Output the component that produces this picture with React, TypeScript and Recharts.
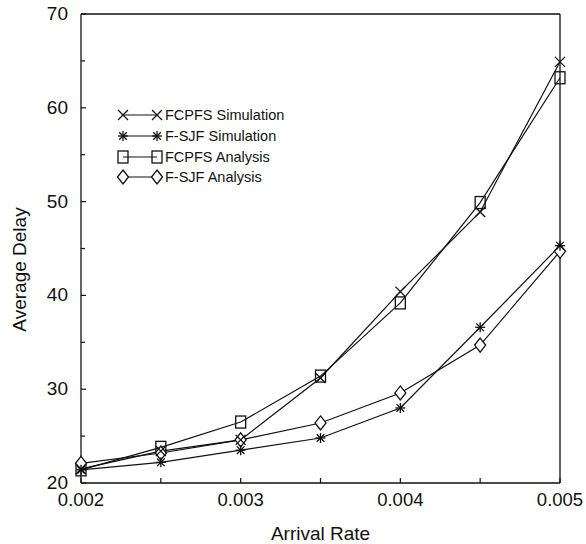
import React from 'react'
import { LineChart, Line, XAxis, YAxis, ReferenceLine, Legend } from 'recharts'

const rates = [0.002, 0.0025, 0.003, 0.0035, 0.004, 0.0045, 0.005]
const fcpfsSim = [21.5, 23.4, 24.6, 31.2, 40.4, 48.9, 64.9]
const fsjfSim = [21.4, 22.2, 23.5, 24.8, 28.0, 36.6, 45.3]
const fcpfsAna = [21.4, 23.8, 26.5, 31.4, 39.2, 49.9, 63.2]
const fsjfAna = [22.1, 23.2, 24.6, 26.4, 29.6, 34.7, 44.7]

const xTicks = [0.002, 0.0025, 0.003, 0.0035, 0.004, 0.0045, 0.005]
const yTicks = [20, 25, 30, 35, 40, 45, 50, 55, 60, 65, 70]

const seriesNames = ['FCPFS Simulation', 'F-SJF Simulation', 'FCPFS Analysis', 'F-SJF Analysis']
const seriesShapes = ['cross', 'star', 'square', 'diamond']

const data = rates.map((r, i) => ({
  rate: r,
  fcpfsSim: fcpfsSim[i],
  fsjfSim: fsjfSim[i],
  fcpfsAna: fcpfsAna[i],
  fsjfAna: fsjfAna[i],
}))

const FONT = '"Liberation Sans", Arial, sans-serif'
const INK = '#111'

const Marker = ({ shape, cx, cy }: { shape: string; cx: number; cy: number }) => {
  if (cx == null || cy == null) return null
  if (shape === 'cross') {
    const s = 5
    return (
      <g stroke={INK} strokeWidth={1.3}>
        <line x1={cx - s} y1={cy - s} x2={cx + s} y2={cy + s} />
        <line x1={cx - s} y1={cy + s} x2={cx + s} y2={cy - s} />
      </g>
    )
  }
  if (shape === 'star') {
    const s = 5
    const d = 3.8
    return (
      <g stroke={INK} strokeWidth={1.3}>
        <line x1={cx} y1={cy - s} x2={cx} y2={cy + s} />
        <line x1={cx - s} y1={cy} x2={cx + s} y2={cy} />
        <line x1={cx - d} y1={cy - d} x2={cx + d} y2={cy + d} />
        <line x1={cx - d} y1={cy + d} x2={cx + d} y2={cy - d} />
      </g>
    )
  }
  if (shape === 'square') {
    return <rect x={cx - 5} y={cy - 6} width={10} height={12} fill="none" stroke={INK} strokeWidth={1.3} />
  }
  return (
    <path
      d={`M${cx},${cy - 7} L${cx + 5.5},${cy} L${cx},${cy + 7} L${cx - 5.5},${cy} Z`}
      fill="#fff"
      stroke={INK}
      strokeWidth={1.3}
    />
  )
}

const dotFor = (shape: string) => (props: any) => (
  <Marker key={`${shape}-${props.index}`} shape={shape} cx={props.cx} cy={props.cy} />
)

const XTick = (props: any) => {
  const { x, y, payload } = props
  const v = payload.value
  const major = Math.abs(Math.round(v * 1000) - v * 1000) < 1e-6
  return (
    <g>
      <line x1={x} y1={y} x2={x} y2={y - 5} stroke={INK} strokeWidth={1.2} />
      {major && (
        <text x={x} y={y + 23} textAnchor="middle" fontSize={18.5} fontFamily={FONT} fill={INK}>
          {v.toFixed(3)}
        </text>
      )}
    </g>
  )
}

const YTick = (props: any) => {
  const { x, y, payload } = props
  const v = payload.value
  const major = v % 10 === 0
  return (
    <g>
      <line x1={x} y1={y} x2={x + (major ? 5 : 4)} y2={y} stroke={INK} strokeWidth={1.2} />
      {major && (
        <text x={x - 13} y={y + 6} textAnchor="end" fontSize={19} fontFamily={FONT} fill={INK}>
          {v}
        </text>
      )}
    </g>
  )
}

const LegendBox = () => (
  <div style={{ fontFamily: FONT, fontSize: 14.5, color: INK }}>
    {seriesNames.map((name, i) => (
      <div key={name} style={{ display: 'flex', alignItems: 'center', height: 20.7 }}>
        <svg width={46} height={18} style={{ display: 'block' }}>
          <line x1={6} y1={9} x2={40} y2={9} stroke={INK} strokeWidth={1.2} />
          <Marker shape={seriesShapes[i]} cx={6} cy={9} />
          <Marker shape={seriesShapes[i]} cx={40} cy={9} />
        </svg>
        <span style={{ marginLeft: 2, whiteSpace: 'nowrap' }}>{name}</span>
      </div>
    ))}
  </div>
)

export default function App() {
  // body margin removed so the chart coordinates equal page coordinates
  return (
    <div style={{ width: 586, height: 544 }}>
      <style>{'html, body { margin: 0; overflow: hidden; }'}</style>
      <LineChart width={586} height={544} data={data} margin={{ top: 14, right: 26, bottom: 0, left: 0 }}>
        <XAxis
          dataKey="rate"
          type="number"
          domain={[0.002, 0.005]}
          ticks={xTicks}
          tickSize={0}
          tickMargin={0}
          tick={XTick}
          height={61}
          axisLine={{ stroke: INK, strokeWidth: 1.3 }}
          tickLine={false}
          label={{
            content: (p: any) => {
              const vb = p.viewBox
              return (
                <text x={vb.x + vb.width / 2} y={vb.y + 57} textAnchor="middle" fontSize={19} fontFamily={FONT} fill={INK}>
                  Arrival Rate
                </text>
              )
            },
          }}
        />
        <YAxis
          type="number"
          domain={[20, 70]}
          ticks={yTicks}
          tickSize={0}
          tickMargin={0}
          tick={YTick}
          width={81}
          axisLine={{ stroke: INK, strokeWidth: 1.3 }}
          tickLine={false}
          label={{
            content: (p: any) => {
              const vb = p.viewBox
              const cy = vb.y + vb.height / 2 + 21
              return (
                <text
                  x={19}
                  y={cy}
                  transform={`rotate(-90, 19, ${cy})`}
                  textAnchor="middle"
                  dominantBaseline="central"
                  fontSize={19}
                  fontFamily={FONT}
                  fill={INK}
                >
                  Average Delay
                </text>
              )
            },
          }}
        />
        <ReferenceLine y={70} stroke={INK} strokeWidth={1.3} />
        <ReferenceLine x={0.005} stroke={INK} strokeWidth={1.3} />
        <Legend
          content={LegendBox}
          layout="horizontal"
          verticalAlign="middle"
          align="center"
          wrapperStyle={{ top: 105, left: 117, width: 220 }}
        />
        <Line dataKey="fcpfsAna" stroke={INK} strokeWidth={1.2} dot={dotFor('square')} isAnimationActive={false} />
        <Line dataKey="fsjfAna" stroke={INK} strokeWidth={1.2} dot={dotFor('diamond')} isAnimationActive={false} />
        <Line dataKey="fsjfSim" stroke={INK} strokeWidth={1.2} dot={dotFor('star')} isAnimationActive={false} />
        <Line dataKey="fcpfsSim" stroke={INK} strokeWidth={1.2} dot={dotFor('cross')} isAnimationActive={false} />
      </LineChart>
    </div>
  )
}
